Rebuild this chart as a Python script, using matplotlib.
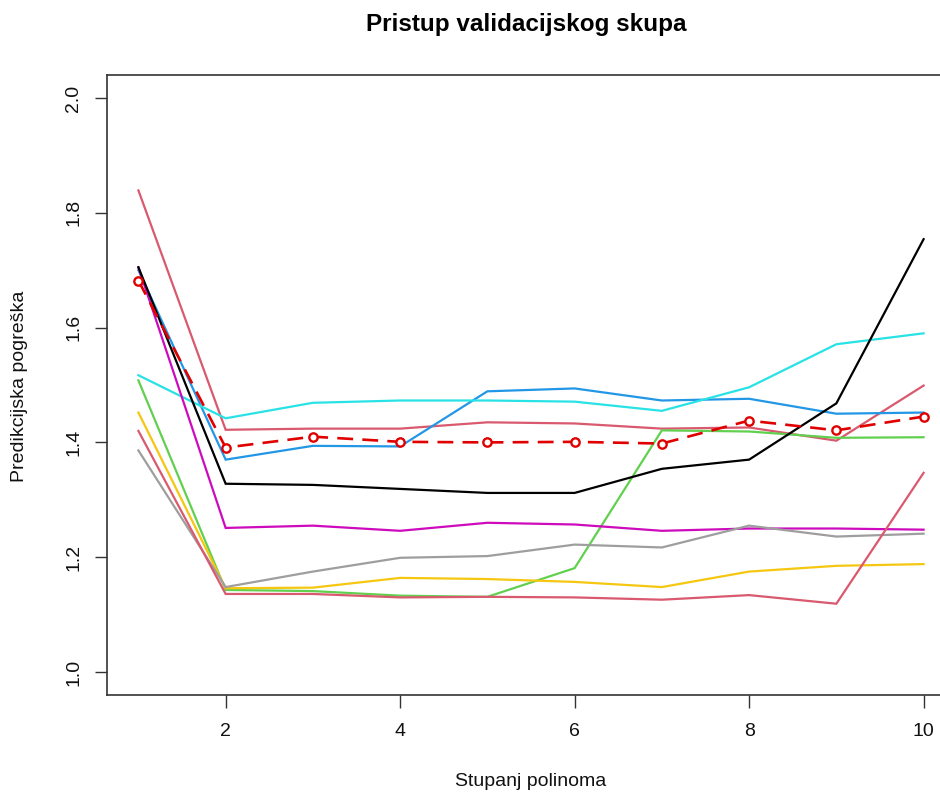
import matplotlib
matplotlib.use("Agg")
import matplotlib.pyplot as plt
import numpy as np

plt.rcParams['font.family'] = ['Liberation Sans', 'DejaVu Sans']

# polynomial degree
degree = [1, 2, 3, 4, 5, 6, 7, 8, 9, 10]

# prediction error per validation split
err_black = [1.705, 1.328, 1.326, 1.319, 1.312, 1.312, 1.354, 1.370, 1.468, 1.754]
err_pink_top = [1.839, 1.422, 1.424, 1.424, 1.435, 1.433, 1.424, 1.426, 1.403, 1.499]
err_green = [1.508, 1.143, 1.141, 1.133, 1.131, 1.181, 1.421, 1.419, 1.408, 1.409]
err_blue = [1.700, 1.370, 1.394, 1.393, 1.489, 1.494, 1.473, 1.476, 1.450, 1.452]
err_cyan = [1.517, 1.442, 1.469, 1.473, 1.473, 1.471, 1.455, 1.496, 1.571, 1.590]
err_magenta = [1.705, 1.251, 1.255, 1.246, 1.260, 1.257, 1.246, 1.250, 1.250, 1.248]
err_yellow = [1.452, 1.146, 1.147, 1.164, 1.162, 1.157, 1.148, 1.175, 1.185, 1.188]
err_gray = [1.386, 1.148, 1.175, 1.199, 1.202, 1.222, 1.217, 1.255, 1.236, 1.241]
err_pink_low = [1.420, 1.136, 1.136, 1.130, 1.131, 1.130, 1.126, 1.134, 1.119, 1.347]

# the highlighted red curve with circles
err_mean = [1.682, 1.391, 1.410, 1.401, 1.400, 1.401, 1.398, 1.438, 1.421, 1.445]

series = [
    (err_pink_top, "#D9596E"),
    (err_green, "#61D04F"),
    (err_blue, "#2297E6"),
    (err_cyan, "#28E2E5"),
    (err_magenta, "#CD0BBC"),
    (err_yellow, "#F5C710"),
    (err_gray, "#9E9E9E"),
    (err_pink_low, "#D9596E"),
    (err_black, "black"),
]

fig = plt.figure(figsize=(9.4, 7.96), dpi=100)
ax = fig.add_axes([107 / 940, 1 - 695 / 796, 848 / 940, 620 / 796])

for vals, col in series:
    ax.plot(degree, vals, color=col, lw=1.6, solid_joinstyle='miter')

ax.plot(degree, err_mean, color="#E00000", lw=1.9, linestyle=(0, (6, 3.5)),
        marker='o', markersize=6, markerfacecolor='white',
        markeredgecolor="#E00000", markeredgewidth=1.7)

ax.set_xlim(0.64, 10.36)
ax.set_ylim(0.96, 2.04)
ax.set_xticks([2, 4, 6, 8, 10])
ax.set_yticks([1.0, 1.2, 1.4, 1.6, 1.8, 2.0])
ax.set_yticklabels(["1.0", "1.2", "1.4", "1.6", "1.8", "2.0"], rotation=90, va='center')
ax.tick_params(direction='out', length=9, width=1, color='#333333',
               labelsize=14, labelcolor='#111111')
ax.tick_params(axis='x', pad=11)
ax.tick_params(axis='y', pad=9)
for s in ax.spines.values():
    s.set_color('#333333')
    s.set_linewidth(1.2)

fig.text(526 / 940, 1 - 25 / 796, "Pristup validacijskog skupa", ha='center',
         va='center', fontsize=17.5, fontweight='bold')
fig.text(531 / 940, 1 - 781 / 796, "Stupanj polinoma", ha='center', va='center',
         fontsize=14, color='#111111')
fig.text(20 / 940, 1 - 386 / 796, "Predikcijska pogreška", ha='center',
         va='center', rotation=90, fontsize=14, color='#111111')

fig.savefig("out.png", dpi=100)
